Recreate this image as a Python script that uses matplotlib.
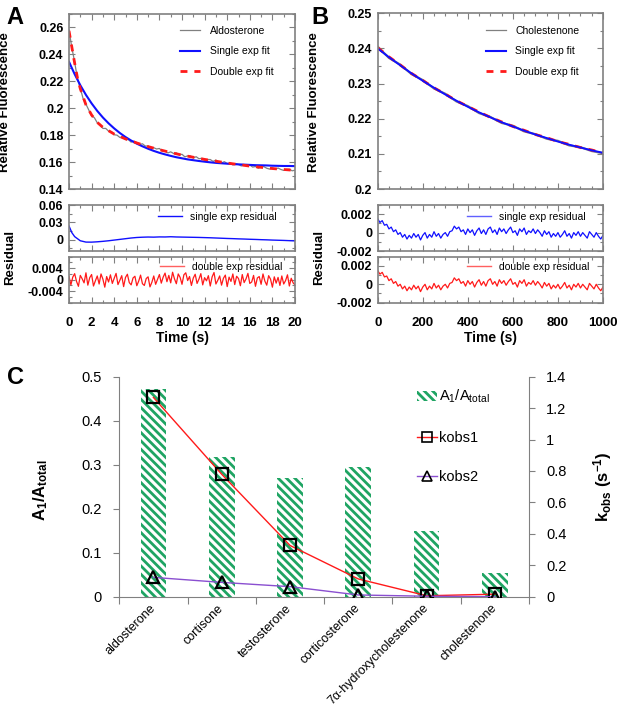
"""Fluorescence decay traces with single/double exponential fits, and
fitted amplitudes / rate constants for a set of steroids."""

import numpy as np
import matplotlib
matplotlib.use("Agg")
import matplotlib.pyplot as plt
from matplotlib.ticker import MultipleLocator
from matplotlib.patches import Patch
from matplotlib.lines import Line2D

plt.rcParams["font.family"] = ["Liberation Sans", "DejaVu Sans"]
plt.rcParams["mathtext.fontset"] = "custom"
plt.rcParams["mathtext.rm"] = "Liberation Sans"
plt.rcParams["mathtext.bf"] = "Liberation Sans:bold"
plt.rcParams["mathtext.it"] = "Liberation Sans:italic"
plt.rcParams["hatch.linewidth"] = 2.0

# ---------------------------------------------------------------- data

# Panel A: aldosterone, 0-20 s
a_data_dt = 0.25
a_data = [
    0.2581, 0.2451, 0.2343, 0.2218, 0.2148, 0.2071, 0.2030, 0.1987, 0.1944,
    0.1929, 0.1892, 0.1879, 0.1850, 0.1850, 0.1830, 0.1827, 0.1803, 0.1800,
    0.1783, 0.1789, 0.1768, 0.1767, 0.1748, 0.1756, 0.1744, 0.1730, 0.1736,
    0.1719, 0.1720, 0.1702, 0.1707, 0.1697, 0.1701, 0.1681, 0.1684, 0.1668,
    0.1676, 0.1664, 0.1668, 0.1653, 0.1658, 0.1639, 0.1646, 0.1645, 0.1630,
    0.1640, 0.1625, 0.1628, 0.1613, 0.1618, 0.1619, 0.1605, 0.1615, 0.1601,
    0.1594, 0.1603, 0.1589, 0.1593, 0.1579, 0.1589, 0.1582, 0.1571, 0.1582,
    0.1570, 0.1578, 0.1563, 0.1567, 0.1554, 0.1565, 0.1566, 0.1554, 0.1548,
    0.1557, 0.1546, 0.1556, 0.1545, 0.1538, 0.1546, 0.1547, 0.1535, 0.1540,
]
a_single_dt = 0.5
a_single = [
    0.2345, 0.2253, 0.2171, 0.2099, 0.2036, 0.1980, 0.1931, 0.1888, 0.1850,
    0.1816, 0.1786, 0.1760, 0.1737, 0.1717, 0.1699, 0.1683, 0.1669, 0.1657,
    0.1646, 0.1636, 0.1628, 0.1620, 0.1614, 0.1608, 0.1603, 0.1598, 0.1594,
    0.1591, 0.1588, 0.1585, 0.1583, 0.1581, 0.1579, 0.1577, 0.1576, 0.1575,
    0.1573, 0.1572, 0.1571, 0.1571, 0.1570,
]
a_double_t = [0, 0.25, 0.5, 0.75, 1, 1.5, 2, 2.5, 3, 4, 5, 6, 7, 8, 9, 10,
              12, 14, 16, 18, 20]
a_double = [0.2575, 0.2455, 0.2335, 0.2225, 0.2145, 0.2025, 0.1950, 0.1895,
            0.1858, 0.1808, 0.1772, 0.1742, 0.1715, 0.1692, 0.1671, 0.1652,
            0.1620, 0.1593, 0.1570, 0.1552, 0.1538]
a_res_single_t = [0, 0.25, 0.5, 1, 1.5, 2, 2.5, 3, 3.5, 4, 4.5, 5, 5.5, 6,
                  6.5, 7, 7.5, 8, 8.5, 9, 9.5, 10, 10.5, 11, 11.5, 12, 12.5,
                  13, 13.5, 14, 14.5, 15, 15.5, 16, 16.5, 17, 17.5, 18, 18.5,
                  19, 19.5, 20]
a_res_single = [0.0235, 0.0120, 0.0050, -0.0022, -0.0045, -0.0046, -0.0040,
                -0.0032, -0.0022, -0.0010, 0.0002, 0.0014, 0.0026, 0.0035,
                0.0040, 0.0043, 0.0041, 0.0045, 0.0044, 0.0048, 0.0044,
                0.0042, 0.0040, 0.0038, 0.0036, 0.0033, 0.0030, 0.0026,
                0.0022, 0.0018, 0.0015, 0.0011, 0.0008, 0.0004, 0.0001,
                -0.0003, -0.0006, -0.0010, -0.0013, -0.0016, -0.0020, -0.0024]
# double exponential residual, in units of 1e-3
a_res_double_e3 = [
    1.2, -1.8, 0.9, 2.1, -0.6, -2.3, 1.5, 0.3, -1.1, 2.4, -1.9, 0.7, 1.8,
    -2.2, -0.4, 1.3, -1.5, 2.0, 0.2, -2.6, 1.1, -0.8, 1.7, -1.3, 0.5, 2.2,
    -1.7, -0.2, 1.4, -2.4, 0.8, 1.9, -1.0, -1.8, 0.6, 1.2, -2.1, -0.5, 1.6,
    -1.4, -2.0, 0.4, 1.0, -2.5, -0.9, 1.3, -1.6, 0.1, 1.8, -1.2, 0.9, 2.3,
    -0.7, 1.5, -1.1, 2.6, 0.3, -1.4, 2.0, 0.8, -1.6, 1.7, 2.4, -0.3, 1.1,
    -2.0, 0.6, 1.9, -1.3, 0.2, 2.1, -1.8, 0.7, -0.4, 1.4, -2.2, 1.0, 2.5,
    -1.5, -0.2, 1.3, -1.9, 0.5, 1.6, -2.4, 0.9, -0.6, 2.0, -1.7, 1.2, 0.4,
    -2.1, 1.8, -1.0, 0.3, 2.2, -1.3, -0.8, 1.5, -2.3, 0.6, 1.1, -1.6, 2.0,
    -0.5, -1.9, 1.4, 0.2, -2.6, 1.0, -1.2, 0.8, -2.0, 1.3, -1.5, -0.3, 1.7,
    -2.2, 0.5, -1.1, -1.8,
]

# Panel B: cholestenone, 0-1000 s
b_fit_dt = 50
b_data = [0.2405, 0.2373, 0.2354, 0.2327, 0.2310, 0.2286, 0.2271, 0.2249,
          0.2236, 0.2216, 0.2205, 0.2188, 0.2180, 0.2164, 0.2156, 0.2143,
          0.2137, 0.2124, 0.2119, 0.2108, 0.2102]
b_single = [0.2400, 0.2375, 0.2352, 0.2329, 0.2308, 0.2288, 0.2269, 0.2251,
            0.2234, 0.2218, 0.2204, 0.2190, 0.2178, 0.2166, 0.2155, 0.2145,
            0.2135, 0.2126, 0.2118, 0.2110, 0.2103]
b_double = [0.2402, 0.2376, 0.2353, 0.2329, 0.2309, 0.2288, 0.2270, 0.2251,
            0.2235, 0.2219, 0.2204, 0.2191, 0.2178, 0.2167, 0.2155, 0.2146,
            0.2135, 0.2127, 0.2118, 0.2111, 0.2103]
# residuals (single and double look the same), in units of 1e-3, every 10 s
b_res_dt = 10
b_res_e3 = [
    1.5, 1.1, 1.3, 0.8, 0.9, 0.4, 0.6, 0.1, 0.3, -0.2, 0.0, -0.5, -0.2, -0.7,
    -0.3, -0.6, -0.1, -0.5, -0.2, -0.8, -0.3, 0.0, -0.6, -0.2, -0.5, 0.1,
    -0.4, -0.1, -0.6, -0.2, 0.0, -0.4, 0.1, 0.2, 0.7, 0.4, 0.6, 0.1, 0.3,
    -0.2, 0.4, 0.0, 0.3, -0.3, 0.2, 0.5, -0.1, 0.3, -0.2, 0.4, 0.6, 0.0, 0.3,
    -0.2, 0.5, 0.1, 0.4, -0.1, 0.3, 0.6, 0.0, 0.2, -0.3, 0.4, 0.1, 0.5, -0.2,
    0.2, 0.0, 0.4, -0.1, 0.3, 0.0, -0.4, 0.2, -0.2, 0.1, -0.5, -0.1, -0.4,
    0.0, -0.5, -0.2, 0.2, -0.4, -0.1, -0.6, 0.0, -0.3, 0.1, -0.4, 0.0, -0.3,
    -0.6, 0.1, -0.2, -0.5, 0.0, -0.4, -0.7, -0.3,
]

# Panel C
steroids = ["aldosterone", "cortisone", "testosterone", "corticosterone",
            "7α-hydroxycholestenone", "cholestenone"]
a1_frac = [0.471, 0.318, 0.270, 0.295, 0.150, 0.055]
kobs1 = [1.268, 0.779, 0.326, 0.113, 0.006, 0.016]
kobs2 = [0.123, 0.091, 0.064, 0.011, 0.003, 0.0]

# ---------------------------------------------------------------- layout

W, H = 629, 708
GRAY = "#808080"
BLUE = "#1010ff"
RED = "#ff1a1a"
GREEN = "#1fa463"
TICK_FS = 9


def box(left, top, right, bottom):
    """Axes rectangle in figure fraction from pixel edges."""
    return [left / W, 1 - bottom / H, (right - left) / W, (bottom - top) / H]


def fxy(px, py):
    return (px / W, 1 - py / H)


def style_trace(ax, xmax, xmajor, xminor, ylim, yticks, yminor, xlabels):
    ax.set_xlim(0, xmax)
    ax.set_ylim(*ylim)
    xt = np.arange(0, xmax + xmajor / 2, xmajor)
    if xlabels:
        ax.set_xticks(xt, [f"{v:g}" for v in xt], fontweight="bold",
                      fontsize=TICK_FS + 0.5)
    else:
        ax.set_xticks(xt, [])
    ax.set_yticks(yticks, [f"{v:g}" for v in yticks], fontweight="bold",
                  fontsize=TICK_FS)
    ax.xaxis.set_minor_locator(MultipleLocator(xminor))
    ax.yaxis.set_minor_locator(MultipleLocator(yminor))
    ax.tick_params(which="both", direction="in", top=True, right=True,
                   color=GRAY, width=0.8)
    ax.tick_params(which="major", length=4)
    ax.tick_params(which="minor", length=2.5)
    ax.tick_params(axis="x", pad=10)
    ax.tick_params(axis="y", pad=4)
    for s in ax.spines.values():
        s.set_color(GRAY)
        s.set_linewidth(1.2)


def small_legend(ax, handles, labels, px, py, **kw):
    ax.legend(handles, labels, loc="upper left", bbox_to_anchor=fxy(px, py),
              bbox_transform=fig.transFigure, frameon=False, fontsize=7.5,
              borderpad=0, borderaxespad=0, **kw)


def place_ylabel(ax, px, py):
    ax.yaxis.set_label_coords(*ax.transAxes.inverted().transform(
        fig.transFigure.transform(fxy(px, py))))


fig = plt.figure(figsize=(W / 100, H / 100), dpi=100)

# ---------------------------------------------------------------- panel A
ax = fig.add_axes(box(69, 14, 295, 189))
t = np.arange(len(a_data)) * a_data_dt
ax.plot(t, a_data, color=GRAY, lw=0.9)
ax.plot(np.arange(len(a_single)) * a_single_dt, a_single, color=BLUE, lw=1.5)
ax.plot(a_double_t, a_double, color=RED, lw=2, dashes=(2.5, 2.5))
style_trace(ax, 20, 2, 1, (0.14, 0.27),
            [0.14, 0.16, 0.18, 0.2, 0.22, 0.24, 0.26], 0.01, False)
ax.set_ylabel("Relative Fluorescence", fontweight="bold", fontsize=9.5)
place_ylabel(ax, 11, 102)
small_legend(ax,
             [Line2D([], [], color=GRAY, lw=0.9),
              Line2D([], [], color=BLUE, lw=1.5),
              Line2D([], [], color=RED, lw=2, dashes=(2.5, 2.5))],
             ["Aldosterone", "Single exp fit", "Double exp fit"], 180, 26,
             handlelength=1.9, handletextpad=1.0, labelspacing=1.0)

ax = fig.add_axes(box(69, 205, 295, 251))
ax.plot(a_res_single_t, a_res_single, color=BLUE, lw=1.0)
style_trace(ax, 20, 2, 1, (-0.02, 0.06), [0, 0.03, 0.06], 0.015, False)
small_legend(ax, [Line2D([], [], color=BLUE, lw=1.0)],
             ["single exp residual"], 158, 212,
             handlelength=2.3, handletextpad=0.8)

ax = fig.add_axes(box(69, 256.7, 295, 302.7))
t = np.linspace(0, 20, len(a_res_double_e3))
ax.plot(t, np.array(a_res_double_e3) * 1e-3, color=RED, lw=0.9)
style_trace(ax, 20, 2, 1, (-0.008, 0.008), [-0.004, 0, 0.004], 0.002, True)
ax.set_xlabel("Time (s)", fontweight="bold", fontsize=10, labelpad=2)
small_legend(ax, [Line2D([], [], color="#ff6060", lw=1.0)],
             ["double exp residual"], 160, 262,
             handlelength=2.3, handletextpad=0.8)

# ---------------------------------------------------------------- panel B
ax = fig.add_axes(box(377.7, 13.3, 603, 189))
t = np.arange(len(b_data)) * b_fit_dt
ax.plot(t, b_data, color=GRAY, lw=1.6)
ax.plot(t, b_double, color=RED, lw=2, dashes=(2.5, 2.5))
ax.plot(t, b_single, color=BLUE, lw=1.4)
style_trace(ax, 1000, 200, 50, (0.2, 0.25),
            [0.2, 0.21, 0.22, 0.23, 0.24, 0.25], 0.005, False)
ax.set_ylabel("Relative Fluorescence", fontweight="bold", fontsize=9.5)
place_ylabel(ax, 320, 102)
small_legend(ax,
             [Line2D([], [], color=GRAY, lw=0.9),
              Line2D([], [], color=BLUE, lw=1.5),
              Line2D([], [], color=RED, lw=2, dashes=(2.5, 2.5))],
             ["Cholestenone", "Single exp fit", "Double exp fit"], 486, 26,
             handlelength=1.9, handletextpad=0.9, labelspacing=1.0)

t = np.arange(len(b_res_e3)) * b_res_dt
ax = fig.add_axes(box(377.7, 205, 603, 251))
ax.plot(t, np.array(b_res_e3) * 1e-3, color=BLUE, lw=0.9)
style_trace(ax, 1000, 200, 50, (-0.002, 0.003), [-0.002, 0, 0.002], 0.001,
            False)
small_legend(ax, [Line2D([], [], color="#6060ff", lw=1.0)],
             ["single exp residual"], 467, 212,
             handlelength=2.3, handletextpad=0.8)

ax = fig.add_axes(box(377.7, 256.7, 603, 302.7))
ax.plot(t, np.array(b_res_e3) * 1e-3, color=RED, lw=0.9)
style_trace(ax, 1000, 200, 50, (-0.002, 0.003), [-0.002, 0, 0.002], 0.001,
            True)
ax.set_xlabel("Time (s)", fontweight="bold", fontsize=10, labelpad=2)
small_legend(ax, [Line2D([], [], color="#ff6060", lw=1.0)],
             ["double exp residual"], 467, 262,
             handlelength=2.3, handletextpad=0.8)

fig.text(*fxy(10, 257), "Residual", rotation=90, ha="center", va="center",
         fontweight="bold", fontsize=9.5)
fig.text(*fxy(319, 257), "Residual", rotation=90, ha="center", va="center",
         fontweight="bold", fontsize=9.5)

# ---------------------------------------------------------------- panel C
axc = fig.add_axes(box(119.3, 376.7, 529, 596.7))
x = np.arange(len(steroids))
axc.bar(x, a1_frac, width=0.376, facecolor="white", edgecolor=GREEN,
        linewidth=0, hatch="\\\\\\\\", zorder=1)
axc.set_xlim(-0.5, len(steroids) - 0.5)
axc.set_ylim(0, 0.5)
yt = [0, 0.1, 0.2, 0.3, 0.4, 0.5]
axc.set_yticks(yt, [f"{v:g}" for v in yt], fontsize=10.5)
axc.set_xticks(np.arange(-0.5, len(steroids), 1), [])
axc.set_xticks(x, steroids, minor=True, rotation=45, ha="right",
               va="center", rotation_mode="anchor", fontsize=9)
axc.tick_params(axis="x", which="minor", length=0, pad=7)
axc.tick_params(axis="x", which="major", length=5, color=GRAY)
axc.tick_params(axis="y", length=4.5, color=GRAY, pad=8)
axc.spines["top"].set_visible(False)
axc.spines["right"].set_visible(False)
for s in ("left", "bottom"):
    axc.spines[s].set_color(GRAY)
axc.set_ylabel(r"$\mathbf{A_1/A_{total}}$", fontsize=12)
place_ylabel(axc, 50, 490)

axk = axc.twinx()
axk.plot(x, kobs1, color=RED, lw=1.0, marker="s", ms=8, mfc="none",
         mec="black", mew=1.6)
axk.plot(x, kobs2, color="#8a4fd0", lw=1.0, marker="^", ms=9, mfc="none",
         mec="black", mew=1.6)
axk.set_ylim(0, 1.4)
kt = [0, 0.2, 0.4, 0.6, 0.8, 1, 1.2, 1.4]
axk.set_yticks(kt, [f"{v:g}" for v in kt], fontsize=10.5)
axk.tick_params(axis="y", length=4.5, color=GRAY, pad=8)
axk.spines["top"].set_visible(False)
axk.spines["left"].set_visible(False)
axk.spines["bottom"].set_visible(False)
axk.spines["right"].set_color(GRAY)
axk.set_ylabel(r"$\mathbf{k_{obs}\ (s^{-1})}$", fontsize=12)
place_ylabel(axk, 591, 487)

axk.legend(
    [Patch(facecolor="white", edgecolor=GREEN, linewidth=0,
           hatch="\\\\\\\\"),
     Line2D([], [], color=RED, lw=1.0, marker="s", ms=7, mfc="none",
            mec="black", mew=1.2),
     Line2D([], [], color="#8a4fd0", lw=1.0, marker="^", ms=7, mfc="none",
            mec="black", mew=1.2)],
    [r"A$_\mathrm{1}$/A$_\mathrm{total}$", "kobs1", "kobs2"],
    loc="upper left", bbox_to_anchor=fxy(417, 388),
    bbox_transform=fig.transFigure, frameon=False, fontsize=10.5,
    borderpad=0, borderaxespad=0, handlelength=1.4, handletextpad=0.1,
    labelspacing=1.75)

# ---------------------------------------------------------------- letters
fig.text(*fxy(15, 17), "A", fontsize=17, fontweight="bold",
         ha="center", va="center")
fig.text(*fxy(320, 17), "B", fontsize=17, fontweight="bold",
         ha="center", va="center")
fig.text(*fxy(16, 378), "C", fontsize=17, fontweight="bold",
         ha="center", va="center")

fig.savefig("out.png", dpi=100)
